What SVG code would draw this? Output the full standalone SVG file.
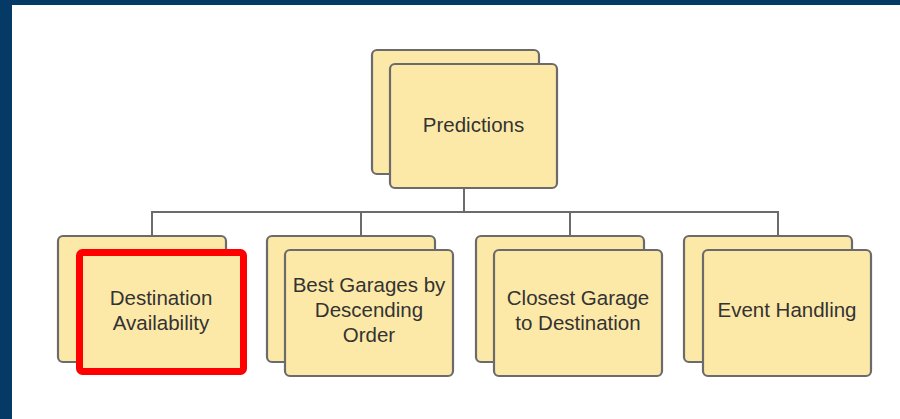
<svg xmlns="http://www.w3.org/2000/svg" width="900" height="419" viewBox="0 0 900 419">
<style>
.box{fill:#fde9a7;stroke:#6b6b6b;stroke-width:2.2}
.hl{fill:#fde9a7;stroke:#ff0000;stroke-width:7}
.lbl{font-family:"Liberation Sans",Arial,sans-serif;font-size:20.5px;fill:#333333;text-anchor:middle}
.conn{fill:none;stroke:#6b6b6b;stroke-width:2}
</style>
<rect x="0" y="0" width="900" height="419" fill="#ffffff"/>
<rect x="0" y="0" width="900" height="5" fill="#053a66"/>
<rect x="0" y="0" width="12" height="419" fill="#053a66"/>
<g id="connectors">
<path class="conn" d="M464 189V212M152 237V212H778V237M361 212V237M570 212V237"/>
</g>
<g id="predictions">
<rect class="box" x="372" y="50" width="167" height="124" rx="5"/>
<rect class="box" x="390" y="64" width="167" height="124" rx="5"/>
<text class="lbl" x="473.5" y="132">Predictions</text>
</g>
<g id="destination-availability">
<rect class="box" x="58" y="236" width="168" height="126" rx="5"/>
<rect class="hl" x="79.5" y="252.5" width="164" height="119" rx="3"/>
<text class="lbl" x="161" y="305">Destination</text>
<text class="lbl" x="161" y="330">Availability</text>
</g>
<g id="best-garages">
<rect class="box" x="267" y="236" width="168" height="126" rx="5"/>
<rect class="box" x="285" y="250" width="168" height="126" rx="5"/>
<text class="lbl" x="369" y="292">Best Garages by</text>
<text class="lbl" x="369" y="317">Descending</text>
<text class="lbl" x="369" y="342">Order</text>
</g>
<g id="closest-garage">
<rect class="box" x="476" y="236" width="168" height="126" rx="5"/>
<rect class="box" x="494" y="250" width="168" height="126" rx="5"/>
<text class="lbl" x="578" y="305">Closest Garage</text>
<text class="lbl" x="578" y="330">to Destination</text>
</g>
<g id="event-handling">
<rect class="box" x="684" y="236" width="168" height="126" rx="5"/>
<rect class="box" x="703" y="250" width="168" height="126" rx="5"/>
<text class="lbl" x="787" y="317">Event Handling</text>
</g>
</svg>
